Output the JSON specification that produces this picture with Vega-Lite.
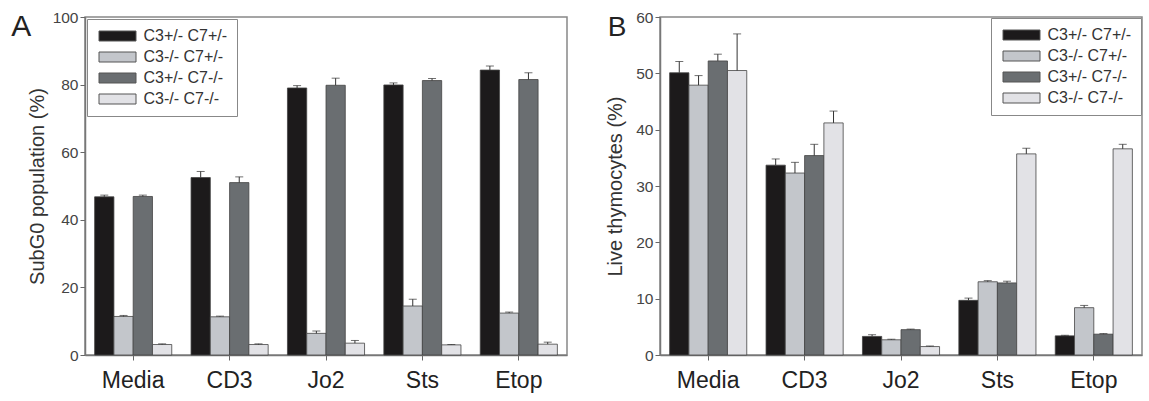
{
  "$schema": "https://vega.github.io/schema/vega-lite/v6.json",
  "padding": {"left": 10, "top": 9, "right": 0, "bottom": 0},
  "background": "white",
  "config": {
    "font": "Liberation Sans",
    "view": {"stroke": "#888", "strokeWidth": 1.5},
    "axis": {"domainColor": "#777", "domainWidth": 1.5, "tickColor": "#666", "tickSize": 5, "labelFont": "Liberation Sans", "titleFont": "Liberation Sans", "grid": false}
  },
  "datasets": {
    "A": [
      {"t": "Media", "g": "C3+/- C7+/-", "v": 46.8, "hi": 47.3},
      {"t": "Media", "g": "C3-/- C7+/-", "v": 11.4, "hi": 11.7},
      {"t": "Media", "g": "C3+/- C7-/-", "v": 46.9, "hi": 47.3},
      {"t": "Media", "g": "C3-/- C7-/-", "v": 3.1, "hi": 3.3},
      {"t": "CD3", "g": "C3+/- C7+/-", "v": 52.5, "hi": 54.3},
      {"t": "CD3", "g": "C3-/- C7+/-", "v": 11.3, "hi": 11.5},
      {"t": "CD3", "g": "C3+/- C7-/-", "v": 51.0, "hi": 52.7},
      {"t": "CD3", "g": "C3-/- C7-/-", "v": 3.1, "hi": 3.3},
      {"t": "Jo2", "g": "C3+/- C7+/-", "v": 79.0, "hi": 79.7},
      {"t": "Jo2", "g": "C3-/- C7+/-", "v": 6.4, "hi": 7.1},
      {"t": "Jo2", "g": "C3+/- C7-/-", "v": 79.8, "hi": 81.9},
      {"t": "Jo2", "g": "C3-/- C7-/-", "v": 3.5, "hi": 4.3},
      {"t": "Sts", "g": "C3+/- C7+/-", "v": 79.9, "hi": 80.5},
      {"t": "Sts", "g": "C3-/- C7+/-", "v": 14.5, "hi": 16.5},
      {"t": "Sts", "g": "C3+/- C7-/-", "v": 81.2, "hi": 81.8},
      {"t": "Sts", "g": "C3-/- C7-/-", "v": 3.0, "hi": 3.1},
      {"t": "Etop", "g": "C3+/- C7+/-", "v": 84.3, "hi": 85.5},
      {"t": "Etop", "g": "C3-/- C7+/-", "v": 12.4, "hi": 12.7},
      {"t": "Etop", "g": "C3+/- C7-/-", "v": 81.5, "hi": 83.5},
      {"t": "Etop", "g": "C3-/- C7-/-", "v": 3.2, "hi": 3.8}
    ],
    "B": [
      {"t": "Media", "g": "C3+/- C7+/-", "v": 50.1, "hi": 52.1},
      {"t": "Media", "g": "C3-/- C7+/-", "v": 47.9, "hi": 49.6},
      {"t": "Media", "g": "C3+/- C7-/-", "v": 52.2, "hi": 53.4},
      {"t": "Media", "g": "C3-/- C7-/-", "v": 50.5, "hi": 57.0},
      {"t": "CD3", "g": "C3+/- C7+/-", "v": 33.7, "hi": 34.8},
      {"t": "CD3", "g": "C3-/- C7+/-", "v": 32.3, "hi": 34.2},
      {"t": "CD3", "g": "C3+/- C7-/-", "v": 35.4, "hi": 37.4},
      {"t": "CD3", "g": "C3-/- C7-/-", "v": 41.2, "hi": 43.3},
      {"t": "Jo2", "g": "C3+/- C7+/-", "v": 3.3, "hi": 3.6},
      {"t": "Jo2", "g": "C3-/- C7+/-", "v": 2.7, "hi": 2.8},
      {"t": "Jo2", "g": "C3+/- C7-/-", "v": 4.5, "hi": 4.6},
      {"t": "Jo2", "g": "C3-/- C7-/-", "v": 1.5, "hi": 1.6},
      {"t": "Sts", "g": "C3+/- C7+/-", "v": 9.7, "hi": 10.1},
      {"t": "Sts", "g": "C3-/- C7+/-", "v": 13.0, "hi": 13.2},
      {"t": "Sts", "g": "C3+/- C7-/-", "v": 12.8, "hi": 13.1},
      {"t": "Sts", "g": "C3-/- C7-/-", "v": 35.7, "hi": 36.7},
      {"t": "Etop", "g": "C3+/- C7+/-", "v": 3.4, "hi": 3.5},
      {"t": "Etop", "g": "C3-/- C7+/-", "v": 8.4, "hi": 8.8},
      {"t": "Etop", "g": "C3+/- C7-/-", "v": 3.7, "hi": 3.8},
      {"t": "Etop", "g": "C3-/- C7-/-", "v": 36.6, "hi": 37.4}
    ]
  },
  "resolve": {"legend": {"color": "independent"}},
  "spacing": 37,
  "hconcat": [
    {
      "width": 482,
      "height": 338,
      "data": {"name": "A"},
      "title": {"text": "A", "anchor": "start", "frame": "bounds", "fontSize": 30, "fontWeight": "normal", "color": "#222", "dx": -16, "dy": 32, "offset": 0},
      "encoding": {
        "x": {"field": "t", "type": "nominal", "sort": ["Media", "CD3", "Jo2", "Sts", "Etop"], "scale": {"paddingInner": 0.2, "paddingOuter": 0.1}, "axis": {"title": null, "labelAngle": 0, "labelFontSize": 23, "labelColor": "#222", "labelPadding": 9}},
        "xOffset": {"field": "g", "type": "nominal", "sort": ["C3+/- C7+/-", "C3-/- C7+/-", "C3+/- C7-/-", "C3-/- C7-/-"]}
      },
      "layer": [
        {
          "mark": {"type": "bar", "stroke": "#444", "strokeWidth": 0.8},
          "encoding": {
            "y": {"field": "v", "type": "quantitative", "title": "SubG0 population (%)", "scale": {"domain": [0, 100], "nice": false}, "axis": {"values": [0, 20, 40, 60, 80, 100], "labelFontSize": 15.5, "labelColor": "#444", "labelPadding": 2, "titleFontSize": 20, "titleFontWeight": "normal", "titleColor": "#333", "titlePadding": 5}},
            "color": {"field": "g", "type": "nominal", "sort": ["C3+/- C7+/-", "C3-/- C7+/-", "C3+/- C7-/-", "C3-/- C7-/-"], "scale": {"domain": ["C3+/- C7+/-", "C3-/- C7+/-", "C3+/- C7-/-", "C3-/- C7-/-"], "range": ["#1c1a1b", "#c3c6cb", "#6a6e71", "#e2e2e6"]},
              "legend": {"orient": "top-left", "offset": 2, "title": null, "strokeColor": "#888", "fillColor": "white", "padding": 9, "labelFontSize": 16, "labelColor": "#333", "symbolType": "M-3.7,-1H3.7V1H-3.7Z", "symbolSize": 100, "symbolOffset": 13.5, "labelOffset": 18, "rowPadding": 5, "symbolStrokeColor": "#555", "symbolStrokeWidth": 1, "symbolOpacity": 1}}
          }
        },
        {
          "mark": {"type": "rule", "color": "#333", "strokeWidth": 1},
          "encoding": {"y": {"field": "v", "type": "quantitative", "title": "SubG0 population (%)"}, "y2": {"field": "hi"}}
        },
        {
          "mark": {"type": "tick", "color": "#333", "size": 8, "thickness": 1},
          "encoding": {"y": {"field": "hi", "type": "quantitative", "title": "SubG0 population (%)"}}
        }
      ]
    },
    {
      "width": 482,
      "height": 338,
      "data": {"name": "B"},
      "title": {"text": "B", "anchor": "start", "frame": "bounds", "fontSize": 28, "fontWeight": "normal", "color": "#222", "dx": 2, "dy": 32, "offset": 0},
      "encoding": {
        "x": {"field": "t", "type": "nominal", "sort": ["Media", "CD3", "Jo2", "Sts", "Etop"], "scale": {"paddingInner": 0.2, "paddingOuter": 0.1}, "axis": {"title": null, "labelAngle": 0, "labelFontSize": 23, "labelColor": "#222", "labelPadding": 9}},
        "xOffset": {"field": "g", "type": "nominal", "sort": ["C3+/- C7+/-", "C3-/- C7+/-", "C3+/- C7-/-", "C3-/- C7-/-"]}
      },
      "layer": [
        {
          "mark": {"type": "bar", "stroke": "#444", "strokeWidth": 0.8},
          "encoding": {
            "y": {"field": "v", "type": "quantitative", "title": "Live thymocytes (%)", "scale": {"domain": [0, 60], "nice": false}, "axis": {"values": [0, 10, 20, 30, 40, 50, 60], "labelFontSize": 15.5, "labelColor": "#444", "labelPadding": 2, "titleFontSize": 20, "titleFontWeight": "normal", "titleColor": "#333", "titlePadding": 10}},
            "color": {"field": "g", "type": "nominal", "sort": ["C3+/- C7+/-", "C3-/- C7+/-", "C3+/- C7-/-", "C3-/- C7-/-"], "scale": {"domain": ["C3+/- C7+/-", "C3-/- C7+/-", "C3+/- C7-/-", "C3-/- C7-/-"], "range": ["#1c1a1b", "#c3c6cb", "#6a6e71", "#e2e2e6"]},
              "legend": {"orient": "top-right", "offset": 1, "title": null, "strokeColor": "#888", "fillColor": "white", "padding": 9, "labelFontSize": 16, "labelColor": "#333", "symbolType": "M-3.7,-1H3.7V1H-3.7Z", "symbolSize": 100, "symbolOffset": 13.5, "labelOffset": 18, "rowPadding": 5, "symbolStrokeColor": "#555", "symbolStrokeWidth": 1, "symbolOpacity": 1}}
          }
        },
        {
          "mark": {"type": "rule", "color": "#333", "strokeWidth": 1},
          "encoding": {"y": {"field": "v", "type": "quantitative", "title": "Live thymocytes (%)"}, "y2": {"field": "hi"}}
        },
        {
          "mark": {"type": "tick", "color": "#333", "size": 8, "thickness": 1},
          "encoding": {"y": {"field": "hi", "type": "quantitative", "title": "Live thymocytes (%)"}}
        }
      ]
    }
  ]
}
